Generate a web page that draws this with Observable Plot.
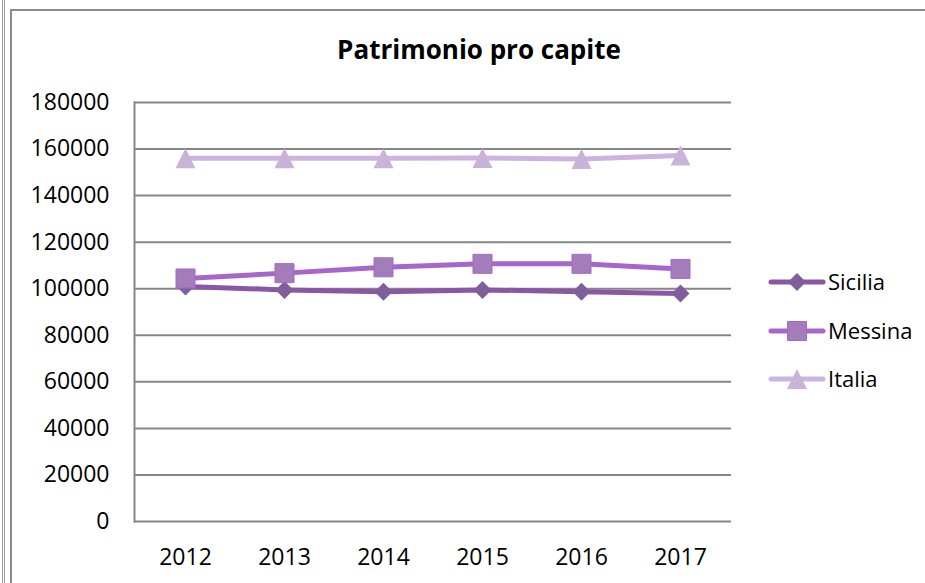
<!DOCTYPE html>
<html>
<head>
<meta charset="utf-8">
<script src="https://cdn.jsdelivr.net/npm/d3@7"></script>
<script src="https://cdn.jsdelivr.net/npm/@observablehq/plot@0.6"></script>
<style>
  html, body { margin: 0; padding: 0; background: #fff; }
  #wrap { position: relative; width: 925px; height: 583px; overflow: hidden; background: #fff; font-family: "Open Sans", sans-serif; }
  #wrap svg { position: absolute; left: 0; top: 0; }
  .bl { position: absolute; background: #8c8c8c; }
</style>
</head>
<body>
<div id="wrap">
  <div class="bl" style="left:2px;top:0;width:1px;height:583px;background:#a0a0a0"></div>
  <div class="bl" style="left:4px;top:0;width:1px;height:583px;background:#a0a0a0"></div>
  <div class="bl" style="left:10px;top:9px;width:2px;height:574px"></div>
  <div class="bl" style="left:10px;top:9px;width:915px;height:2px"></div>
</div>
<script>
const title = "Patrimonio pro capite";
const years = ["2012", "2013", "2014", "2015", "2016", "2017"];
const seriesNames = ["Sicilia", "Messina", "Italia"];
const sicilia = [101000, 99500, 98700, 99500, 98700, 98000];
const messina = [104400, 106700, 109200, 110700, 110700, 108500];
const italia = [156000, 156100, 156100, 156200, 155700, 157200];
const yTicks = [0, 20000, 40000, 60000, 80000, 100000, 120000, 140000, 160000, 180000];

const lineColors = {Sicilia: "#8B56A6", Messina: "#A766CA", Italia: "#CDB3E1"};
const markColors = {Sicilia: "#7F5F9B", Messina: "#A27DB9", Italia: "#C9B3D8"};

// custom marker shapes
const diamond = {draw(ctx, size) { const r = Math.sqrt(size / Math.PI); ctx.moveTo(0, -r); ctx.lineTo(r, 0); ctx.lineTo(0, r); ctx.lineTo(-r, 0); ctx.closePath(); }};
const square = {draw(ctx, size) { const r = Math.sqrt(size / Math.PI); ctx.rect(-r, -r, 2 * r, 2 * r); }};
const triangle = {draw(ctx, size) { const r = Math.sqrt(size / Math.PI); ctx.moveTo(0, -r); ctx.lineTo(r, r); ctx.lineTo(-r, r); ctx.closePath(); }};
const symbols = {Sicilia: diamond, Messina: square, Italia: triangle};
const sizes = {Sicilia: 9, Messina: 9.5, Italia: 10};

const valuesBy = {Sicilia: sicilia, Messina: messina, Italia: italia};
const data = seriesNames.map(s => years.map((y, i) => ({series: s, year: y, value: valuesBy[s][i]})));

const marks = [
  Plot.gridY(yTicks, {stroke: "#868686", strokeOpacity: 1, strokeWidth: 2}),
  Plot.frame({anchor: "left", stroke: "#868686", strokeWidth: 2}),
  Plot.axisY(yTicks, {tickSize: 0, tickPadding: 25, tickFormat: d => String(d), fontSize: 23, fill: "#000"}),
  Plot.axisX({tickSize: 0, tickPadding: 27, fontSize: 23, fill: "#000"})
];
data.forEach((rows, k) => {
  const s = seriesNames[k];
  marks.push(Plot.line(rows, {x: "year", y: "value", stroke: lineColors[s], strokeWidth: 5, strokeLinejoin: "round", strokeLinecap: "round"}));
  marks.push(Plot.dot(rows, {x: "year", y: "value", symbol: () => symbols[s], r: sizes[s], fill: markColors[s],
    stroke: s === "Messina" ? lineColors[s] : "none", strokeWidth: 1}));
});

const chart = Plot.plot({
  width: 925, height: 583,
  marginLeft: 134, marginRight: 194, marginTop: 102, marginBottom: 62,
  style: {fontFamily: "Open Sans", background: "transparent", color: "#000", overflow: "visible"},
  x: {type: "point", domain: years, padding: 0.5, label: null, axis: null},
  y: {domain: [0, 180000], label: null, axis: null},
  symbol: {type: "identity"},
  marks
});
document.getElementById("wrap").appendChild(chart);

// title and legend overlay
const ov = d3.select("#wrap").append("svg").attr("width", 925).attr("height", 583)
  .style("font-family", "Open Sans").style("pointer-events", "none");
ov.append("text").attr("x", 479).attr("y", 59).attr("text-anchor", "middle")
  .attr("font-size", 26).attr("font-weight", "bold").attr("fill", "#000").text(title);
const legY = [282, 331, 379];
seriesNames.forEach((s, i) => {
  const g = ov.append("g").attr("transform", `translate(0,${legY[i]})`);
  g.append("line").attr("x1", 771).attr("x2", 823).attr("y1", 0).attr("y2", 0)
    .attr("stroke", lineColors[s]).attr("stroke-width", 5).attr("stroke-linecap", "round");
  const path = d3.symbol(symbols[s], Math.PI * sizes[s] * sizes[s])();
  g.append("path").attr("d", path).attr("transform", "translate(797,0)")
    .attr("fill", markColors[s]).attr("stroke", s === "Messina" ? lineColors[s] : "none");
  g.append("text").attr("x", 828).attr("y", 0).attr("dy", "0.36em").attr("font-size", 22).attr("fill", "#000").text(s);
});
</script>
</body>
</html>
